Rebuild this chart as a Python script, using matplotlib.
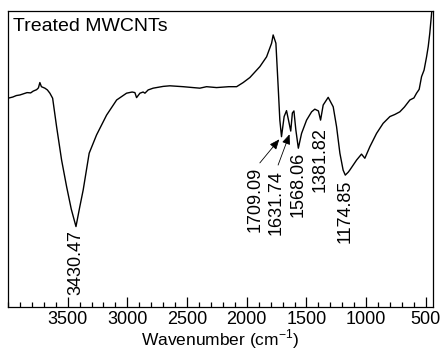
import matplotlib
matplotlib.use("Agg")
import matplotlib.pyplot as plt
from matplotlib.ticker import MultipleLocator

plt.rcParams['font.family'] = ['Liberation Sans', 'DejaVu Sans']
plt.rcParams['mathtext.fontset'] = 'custom'
plt.rcParams['mathtext.rm'] = 'Liberation Sans'

# FTIR spectrum of treated MWCNTs (transmittance, arbitrary units)
wavenumber = [4000, 3960, 3930, 3900, 3870, 3840, 3810, 3789, 3760, 3745, 3733, 3720, 3691,
              3670, 3649, 3626, 3593, 3551, 3509, 3470, 3430.47, 3400, 3370, 3320, 3258,
              3174, 3090, 3007, 2960, 2937, 2923, 2895, 2868, 2853, 2826, 2784, 2700,
              2644, 2533, 2450, 2393, 2337, 2253, 2150, 2085, 2030, 1974, 1890,
              1834, 1792, 1779, 1756, 1737, 1723, 1709.09, 1687, 1667, 1650, 1631.74,
              1618, 1605, 1589, 1568.06, 1541, 1499, 1457, 1430, 1415, 1400, 1381.82,
              1360, 1318, 1276, 1248, 1220, 1193, 1174.85, 1150, 1137, 1080, 1039, 1011,
              969, 913, 858, 801, 760, 718, 680, 634, 600, 578, 556, 536, 515, 494,
              480, 467, 452, 441]
transmittance = [70.5, 70.9, 71.4, 71.6, 72.0, 72.4, 72.3, 72.9, 73.4, 74.0, 75.8, 74.4, 73.9,
                 73.3, 72.2, 70.5, 60.9, 49.6, 40.6, 33.0, 27.1, 33.5, 39.5, 51.9, 58.1,
                 64.8, 69.9, 72.2, 72.6, 72.4, 70.7, 72.2, 72.6, 72.2, 73.3, 73.9, 74.5,
                 74.7, 74.4, 74.1, 73.9, 74.4, 74.1, 74.4, 74.4, 75.8, 77.5, 81.2,
                 84.5, 89.1, 91.9, 89.1, 74.4, 63.1, 57.5, 64.3, 66.3, 63.0, 59.4,
                 65.5, 66.2, 59.8, 53.6, 58.6, 63.1, 65.9, 66.8, 66.5, 66.2, 63.1,
                 68.2, 70.8, 67.6, 60.9, 51.9, 46.2, 44.5, 45.5, 46.2, 49.6, 51.6, 50.2,
                 54.1, 58.6, 62.0, 64.3, 65.0, 65.9, 67.5, 69.9, 70.6, 72.2, 73.5, 77.8,
                 80.0, 84.5, 88.0, 92.5, 99.2, 103.0]

# Band positions that are labelled on the spectrum
peak_labels = ["3430.47", "1709.09", "1631.74", "1568.06", "1381.82", "1174.85"]
peak_wn = [3430.47, 1709.09, 1631.74, 1568.06, 1381.82, 1174.85]
peak_t = [27.1, 57.5, 59.4, 53.6, 63.1, 44.5]

tick_values = [3500, 3000, 2500, 2000, 1500, 1000, 500]
tick_text = ["3500", "3000", "2500", "2000", "1500", "1000", "500"]

fig = plt.figure(figsize=(4.41, 3.51), dpi=100)
ax = fig.add_axes([0.0181, 0.1262, 0.9638, 0.8425])

ax.plot(wavenumber, transmittance, color="black", lw=1.0)

ax.set_xlim(4000, 440)
ax.set_ylim(0, 100)
ax.set_yticks([])
ax.set_xticks(tick_values)
ax.set_xticklabels(tick_text, fontsize=13)
ax.xaxis.set_minor_locator(MultipleLocator(100))
ax.tick_params(axis="x", which="major", direction="in", length=7.2, width=0.9, pad=3)
ax.tick_params(axis="x", which="minor", direction="in", length=3.6, width=0.9)
for sp in ax.spines.values():
    sp.set_linewidth(0.9)

ax.set_xlabel("Wavenumber (cm$^{\\mathregular{-1}}$)", fontsize=12.5, labelpad=0)
ax.text(0.012, 0.975, "Treated MWCNTs", transform=ax.transAxes,
        fontsize=14, ha="left", va="top")

# text offsets (points) relative to each band minimum; arrows where given
text_offsets = [(0, -2.4), (-19.2, -21.6), (-10.2, -28.1), (0, -2.7), (-0.5, -4.8), (0, -3.6)]
arrow_tails = [None, (-15.6, -18.9), (-9.1, -24.5), None, None, None]

for lab, wn, t, off, tail in zip(peak_labels, peak_wn, peak_t, text_offsets, arrow_tails):
    ax.annotate(lab, xy=(wn, t), xytext=off, textcoords="offset points",
                rotation=90, ha="center", va="top", fontsize=13)
    if tail is not None:
        ax.annotate("", xy=(wn, t), xytext=tail, textcoords="offset points",
                    arrowprops=dict(arrowstyle="-|>,head_length=0.6,head_width=0.25",
                                    color="black", lw=0.6, shrinkA=0, shrinkB=2.5,
                                    mutation_scale=10))

fig.savefig("out.png", dpi=100)
